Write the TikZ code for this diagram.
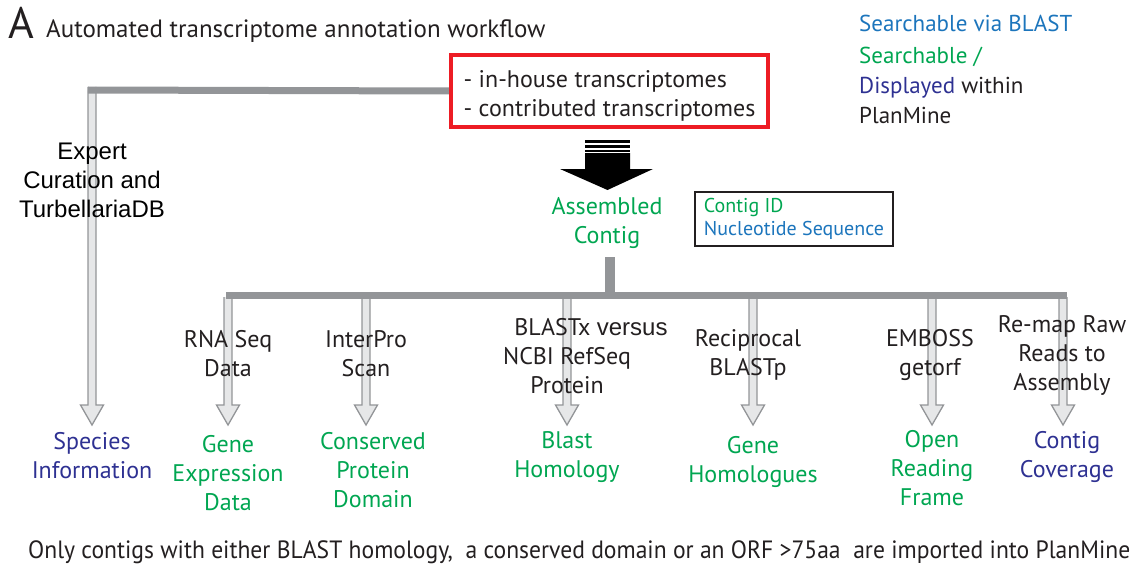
\documentclass[tikz,border=0pt]{standalone}
\usepackage{fontspec}
\usepackage{graphicx}
\setmainfont{PT Sans}
\newfontfamily\arialfont{Liberation Sans}
\usetikzlibrary{calc,backgrounds}
\definecolor{ink}{HTML}{231F20}
\definecolor{leafgreen}{HTML}{00A651}
\definecolor{blastblue}{HTML}{1C75BC}
\definecolor{shownblue}{HTML}{2E3192}
\definecolor{boxred}{HTML}{ED1C24}
\definecolor{bargray}{HTML}{939598}
\definecolor{shaftfill}{HTML}{E6E7E8}

% hollow downward arrow from a start coordinate to a tip coordinate
\newcommand\hollowdown[2]{%
  \filldraw[hollow] ($(#1)+(-4,0)$) -- ($(#2)+(-4,-20)$) -- ($(#2)+(-11.5,-20)$)
    -- (#2) -- ($(#2)+(11.5,-20)$) -- ($(#2)+(4,-20)$) -- ($(#1)+(4,0)$);}

\begin{document}
\begin{tikzpicture}[x=1pt,y=-1pt,
  txt/.style={inner sep=0pt, align=center, font=\fontsize{24}{29}\selectfont, text=ink},
  result/.style={txt, text=leafgreen},
  shown/.style={txt, text=shownblue},
  hollow/.style={draw=bargray, fill=shaftfill, line width=1.3pt, line join=miter},
  bar/.style={draw=bargray, line width=7pt},
]
\useasboundingbox (0,0) rectangle (1134,567);

% heading
\node[anchor=base west, inner sep=0pt, text=ink, font=\fontsize{44}{44}\selectfont] (panel) at (8,39) {A};
\node[anchor=base west, txt, font=\fontsize{25}{29}\selectfont] (title) at (46,38) {Automated transcriptome annotation workflow};

% legend
\node[anchor=base west, txt, text=blastblue, font=\fontsize{23}{29}\selectfont] (legblast) at (859,32) {Searchable via BLAST};
\node[anchor=base west, txt, align=left, font=\fontsize{23}{30}\selectfont] (legshown) at (859,124)
  {\textcolor{leafgreen}{Searchable /}\\\textcolor{shownblue}{Displayed} within\\PlanMine};

% input transcriptomes
\node[draw=boxred, line width=4pt, txt, align=left, font=\fontsize{24}{29}\selectfont,
  minimum width=317, minimum height=72] (source) at (609.5,91)
  {\rule{0pt}{26pt}- in-house transcriptomes\\- contributed transcriptomes};

% assembly
\node[result, anchor=base] (assembled) at (607,243) {Assembled\\Contig};
\node[draw=ink, line width=2.5pt, inner sep=0pt, align=left, minimum width=198, minimum height=54,
  font=\fontsize{20}{22.5}\selectfont] (contigbox) at (794,219)
  {\textcolor{leafgreen}{Contig ID}\\\textcolor{blastblue}{Nucleotide Sequence}};

% expert curation branch
\node[anchor=base, inner sep=0pt, align=center, text=black, font=\arialfont\fontsize{24}{29}\selectfont] (expert) at (92,217)
  {Expert\\Curation and\\TurbellariaDB};

% tools
\node[txt, anchor=base] (rna) at (228,376) {RNA Seq\\Data};
\node[txt, anchor=base] (interpro) at (366,376) {InterPro\\Scan};
\node[txt, anchor=base] (blastx) at (567,393) {\hspace*{48pt}BLASTx {\arialfont versus}\\NCBI RefSeq\\Protein};
\node[txt, anchor=base] (recip) at (748,375) {Reciprocal\\BLASTp};
\node[txt, anchor=base] (emboss) at (930,375) {EMBOSS\\getorf};
\node[txt, anchor=base] (remap) at (1062,390) {Re-map Raw\\Reads to\\Assembly};

% results
\node[shown, anchor=base] (species) at (92,478) {Species\\Information};
\node[result, anchor=base] (geneexpr) at (228,510) {Gene\\Expression\\Data};
\node[result, anchor=base] (domain) at (373,507) {Conserved\\Protein\\Domain};
\node[result, anchor=base] (homology) at (567,477) {Blast\\Homology};
\node[result, anchor=base] (homologues) at (753,482) {Gene\\Homologues};
\node[result, anchor=base] (orf) at (932,505) {Open\\Reading\\Frame};
\node[shown, anchor=base] (coverage) at (1067,477) {Contig\\Coverage};

% footnote
\node[anchor=base west, inner sep=0pt, text=ink] (note) at (28,558)
  {\resizebox{1102pt}{\height}{\fontsize{25}{25}\selectfont Only contigs with either BLAST homology,~ a conserved domain or an ORF >75aa~ are imported into PlanMine}};

% junction points
\coordinate (corner) at (88,90);
\coordinate (cornerdrop) at (92,87);
\coordinate (stemtop) at (610,257);
\coordinate (hub) at (610,295);
\coordinate (barleft) at (226,295);
\coordinate (barright) at (1067,295);
\coordinate (tipspecies) at (92,425);
\foreach \n/\x in {rna/228, interpro/366, blastx/567, recip/753, emboss/932, remap/1063} {
  \coordinate (from\n) at (\x,297);
  \coordinate (tip\n) at (\x,425);
}
\coordinate (flow) at (607.5,140);

\begin{pgfonlayer}{background}
  % hollow arrows
  \hollowdown{cornerdrop}{tipspecies}
  \foreach \n in {rna, interpro, blastx, recip, emboss, remap} {\hollowdown{from\n}{tip\n}}
  % gray bars
  \draw[bar] (source.west) -- (corner);
  \draw[draw=bargray, line width=10pt] (stemtop) -- (hub);
  \draw[bar] (barleft) -- (barright);
  % big black arrow into the assembly
  \fill[black] ($(flow)+(-22.5,0)$) rectangle ($(flow)+(22.5,2.5)$);
  \fill[black] ($(flow)+(-22.5,5)$) rectangle ($(flow)+(22.5,7.5)$);
  \fill[black] ($(flow)+(-22.5,9.5)$) rectangle ($(flow)+(22.5,11.5)$);
  \fill[black] ($(flow)+(-22.5,13)$) -- ($(flow)+(-22.5,29)$) -- ($(flow)+(-47.5,29)$)
    -- ($(flow)+(0,50)$) -- ($(flow)+(45.5,29)$) -- ($(flow)+(22.5,29)$) -- ($(flow)+(22.5,13)$) -- cycle;
\end{pgfonlayer}
\end{tikzpicture}
\end{document}
